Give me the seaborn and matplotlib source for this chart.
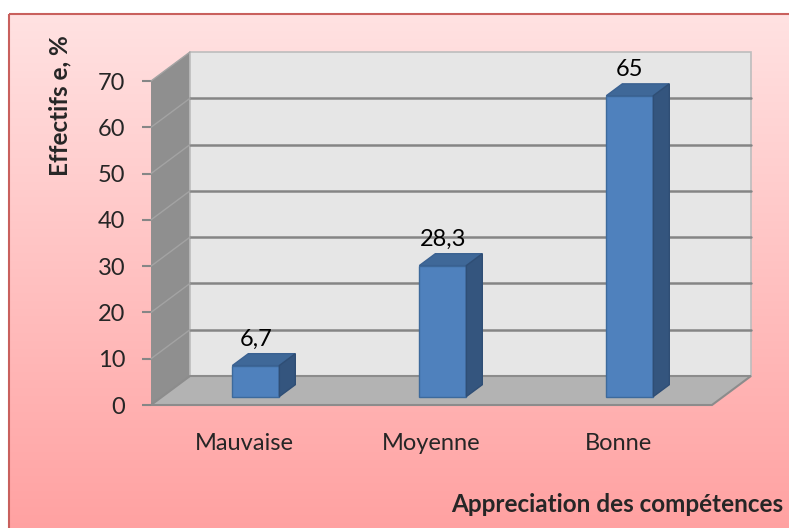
import numpy as np
import matplotlib
matplotlib.use("Agg")
import matplotlib.pyplot as plt
from matplotlib.patches import Polygon, Rectangle
import seaborn as sns

categories = ["Mauvaise", "Moyenne", "Bonne"]
values = [6.7, 28.3, 65]
value_labels = ["6,7", "28,3", "65"]
yticks = [0, 10, 20, 30, 40, 50, 60, 70]

sns.set_theme(style="white")
plt.rcParams["font.family"] = ["Lato", "DejaVu Sans"]
FS = 17
FSB = 17.5

W, H = 789, 528
fig = plt.figure(figsize=(W / 100, H / 100), dpi=100)

# background: pink gradient + red frame
bg = fig.add_axes([0, 0, 1, 1])
bg.set_xlim(0, W)
bg.set_ylim(H, 0)
bg.axis("off")
grad = np.linspace(0, 1, 256).reshape(-1, 1)
top_c = np.array([255, 226, 226]) / 255
bot_c = np.array([255, 160, 160]) / 255
img = top_c[None, None, :] * (1 - grad[..., None]) + bot_c[None, None, :] * grad[..., None]
bg.imshow(img, extent=(9, 800, 540, 14), aspect="auto", zorder=0)
bg.add_patch(Rectangle((9, 14), 800, 530, fill=False, edgecolor="#c9605d", lw=1.5, zorder=1))

# front plane of the 3D box
ax = fig.add_axes([151 / W, (H - 405) / H, 561 / W, 324 / H])
ax.patch.set_visible(False)
for s in ax.spines.values():
    s.set_visible(False)

DX = 39 / 187          # depth in category units
DY = 29 / (324 / 70)   # depth in value units
x0, x1 = -0.5, 2.5

ax.add_patch(Polygon([(x0, 0), (x0, 70), (x0 + DX, 70 + DY), (x0 + DX, DY)],
                     closed=True, facecolor="#8f8f8f", edgecolor="none", clip_on=False, zorder=0))
ax.add_patch(Rectangle((x0 + DX, DY), x1 - x0, 70, facecolor="#e6e6e6", edgecolor="#bdbdbd",
                       lw=1.2, clip_on=False, zorder=0))
for v in yticks[1:-1]:
    ax.plot([x0 + DX, x1 + DX], [v + DY, v + DY], color="#858585", lw=1.8, clip_on=False, zorder=1)
    ax.plot([x0, x0 + DX], [v, v + DY], color="#a3a3a3", lw=1.0, clip_on=False, zorder=1)
ax.plot([x0, x0 + DX], [70, 70 + DY], color="#a3a3a3", lw=1.0, clip_on=False, zorder=1)
ax.add_patch(Polygon([(x0, 0), (x1, 0), (x1 + DX, DY), (x0 + DX, DY)],
                     closed=True, facecolor="#b3b3b3", edgecolor="#8c8c8c", lw=1.5,
                     clip_on=False, zorder=1))

# bars
sns.barplot(x=categories, y=values, ax=ax, color="#4f81bd", saturation=1,
            width=47 / 187, edgecolor="#3d6a9c", linewidth=1, zorder=3)
f = 0.29   # bar position in depth
bf = 0.41  # bar depth
for p, lab in zip(ax.containers[0], value_labels):
    p.set_x(p.get_x() + f * DX)
    p.set_y(f * DY)
    p.set_clip_on(False)
    bx0, bx1 = p.get_x(), p.get_x() + p.get_width()
    bot, top = p.get_y(), p.get_y() + p.get_height()
    ddx, ddy = bf * DX, bf * DY
    ax.add_patch(Polygon([(bx0, top), (bx1, top), (bx1 + ddx, top + ddy), (bx0 + ddx, top + ddy)],
                         closed=True, facecolor="#3f6898", edgecolor="#3a6191", lw=1,
                         clip_on=False, zorder=3))
    ax.add_patch(Polygon([(bx1, bot), (bx1, top), (bx1 + ddx, top + ddy), (bx1 + ddx, bot + ddy)],
                         closed=True, facecolor="#34557e", edgecolor="#2f4e75", lw=1,
                         clip_on=False, zorder=3))
    ax.text((bx0 + bx1) / 2, top + ddy + 1.6, lab, ha="center", va="baseline",
            fontsize=FS, color="black", zorder=4)

ax.set_xlim(-0.5, 2.5)
ax.set_ylim(0, 70)
ax.set_yticks(yticks)
ax.set_yticklabels([str(t) for t in yticks], fontsize=FS)
ax.tick_params(axis="y", left=True, length=6.5, width=1.5, color="#868686", pad=12)
ax.set_xticks(range(len(categories)))
ax.set_xticklabels(categories, fontsize=FS)
ax.tick_params(axis="x", bottom=False, pad=14)
ax.set_xlabel("")
ax.set_ylabel("")

fig.text(60 / W, 1 - 106 / H, "Effectifs e, %", rotation=90, ha="center", va="center",
         fontsize=FSB, fontweight="bold")
fig.text(451 / W, 1 - 505 / H, "Appreciation des compétences", ha="left", va="center",
         fontsize=FSB, fontweight="bold")

fig.savefig("out.png", dpi=100)
